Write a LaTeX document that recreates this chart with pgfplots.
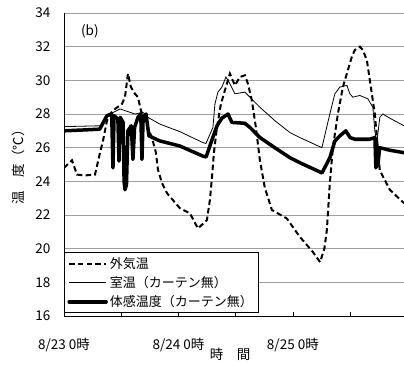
\documentclass[border=0pt]{standalone}
\usepackage{fontspec}
\setmainfont{Noto Sans CJK JP}
\usepackage{pgfplots}
\pgfplotsset{compat=1.18}
\begin{document}
\begin{tikzpicture}
\useasboundingbox (-64pt,-48pt) rectangle (340pt,316pt);
\begin{axis}[
  scale only axis, width=340pt, height=303pt,
  xmin=0, xmax=71.3, ymin=16, ymax=34,
  ytick={16,18,...,34},
  xtick={0,12,24,36,48,60},
  xticklabels={8/23 0時,,8/24 0時,,8/25 0時,},
  axis x line*=bottom, axis y line*=left,
  axis line style={black, line width=0.8pt, -},
  ymajorgrids, grid style={gray!75, line width=0.8pt},
  ytick style={draw=none},
  xtick style={black, line width=0.6pt},
  major tick length=4pt, tick align=inside,
  /pgf/number format/assume math mode=true,
  tick label style={font=\fontsize{13.5}{15}\selectfont},
  yticklabel style={xshift=-10pt},
  xticklabel style={yshift=-19pt},
  legend style={at={(0,0.01)}, anchor=south west, draw=black, line width=0.8pt,
    fill=white, font=\fontsize{13}{14}\selectfont, inner xsep=3pt, inner ysep=2.5pt,
    row sep=2.5pt, cells={anchor=west}},
  legend image code/.code={\draw[#1] (0pt,0pt) -- (37pt,0pt);},
]
\addplot[black, line width=2pt, dash pattern=on 5.5pt off 3.2pt] coordinates {
(0,24.8) (1.68,25.25) (2.72,24.4) (4.4,24.35) (6.5,24.4) (7.55,25.7) (8.17,26.4)
(9.01,27.6) (9.64,28.0) (10.69,28.3) (12.16,28.6) (12.79,29.0) (13.41,30.4)
(14.04,29.6) (14.88,29.2) (15.51,29.0) (16.14,28.2) (16.98,27.6) (18.44,26.6)
(19.28,25.7) (19.70,24.7) (20.54,23.9) (21.59,23.3) (24.31,22.4) (26.41,22.1)
(28.09,21.2) (29.97,21.7) (30.6,22.9) (31.02,24.2) (31.44,25.7) (32.07,27.2)
(32.91,28.6) (33.95,29.6) (34.79,30.4) (35.84,29.7) (36.89,30.2) (37.94,30.3)
(38.57,29.8) (39.40,28.8) (40.24,27.2) (41.08,25.25) (42.13,23.6) (43.60,22.3)
(46.7,21.8) (49.46,20.7) (52.2,19.8) (53.7,19.2) (54.6,20.0) (55.12,21.1)
(55.75,23.9) (56.38,26.0) (57.43,28.0) (58.48,29.6) (59.53,30.6) (60.36,31.4)
(60.99,31.8) (62.04,32.0) (62.67,31.8) (63.51,31.2) (64.14,30.0) (65.18,28.0)
(65.81,26.0) (66.23,24.65) (68.33,23.5) (71.3,22.7)
};
\addlegendentry{外気温}
\addplot[black, line width=0.8pt] coordinates {
(0,27.25) (7.55,27.3) (9.64,28.0) (11.74,28.3) (14.88,28.0) (16.56,28.1)
(17.6,27.8) (20.1,27.4) (24.31,26.95) (29.13,26.3) (29.76,26.25) (31.23,27.2)
(31.65,28.6) (32.28,29.3) (33.12,29.6) (33.95,30.2) (34.79,29.8) (35.84,29.2)
(37.94,29.3) (38.98,29.0) (41.08,28.4) (44.23,27.6) (47.37,26.9) (49.46,26.6)
(54.08,26.0) (55.75,28.0) (56.8,29.2) (57.85,29.6) (59.32,29.7) (59.95,29.2)
(60.57,29.0) (62.04,29.1) (63.72,28.9) (64.77,28.4) (65.18,27.0) (65.6,26.3)
(66.23,27.8) (66.86,28.0) (68.33,27.75) (71.3,27.3)
};
\addlegendentry{室温（カーテン無）}
\addplot[black, line width=3.5pt, line join=round, line cap=round] coordinates {
(0,27.0) (4,27.05) (7.5,27.1) (9.0,27.9) (10.0,28.0) (10.27,24.8) (10.5,27.9)
(11.3,27.7) (11.53,25.2) (11.8,27.8) (12.4,27.5) (12.6,24.0) (12.8,23.5)
(13.1,23.8) (13.4,27.0) (14.1,27.3) (14.46,25.3) (14.8,27.2) (15.5,27.8)
(16.1,28.0) (16.35,25.3) (16.6,27.8) (17.2,28.0) (17.8,26.7) (20.1,26.4)
(24.3,26.1) (29.1,25.5) (29.8,25.45) (31.2,26.6) (32.1,27.3) (33.1,27.75)
(34.4,28.0) (35.2,27.5) (37.9,27.45) (39.0,27.2) (41.1,26.6) (44.2,26.0)
(47.4,25.4) (49.5,25.1) (54.1,24.5) (55.75,25.4) (56.8,26.4) (57.85,26.7)
(59.1,27.0) (60.0,26.6) (61.0,26.5) (64.1,26.5) (65.2,26.6) (65.4,24.8)
(65.6,26.2) (65.8,24.9) (66.2,26.0) (68.3,25.85) (71.3,25.7)
};
\addlegendentry{体感温度（カーテン無）}
\node[font=\fontsize{13.5}{15}\selectfont] at (axis description cs:0.076,0.94) {(b)};
\end{axis}
\node[rotate=90, font=\fontsize{13.5}{15}\selectfont] at (-46pt,152pt) {温　度（℃）};
\node[font=\fontsize{13.5}{15}\selectfont] at (166pt,-38pt) {時　間};
\end{tikzpicture}
\end{document}
